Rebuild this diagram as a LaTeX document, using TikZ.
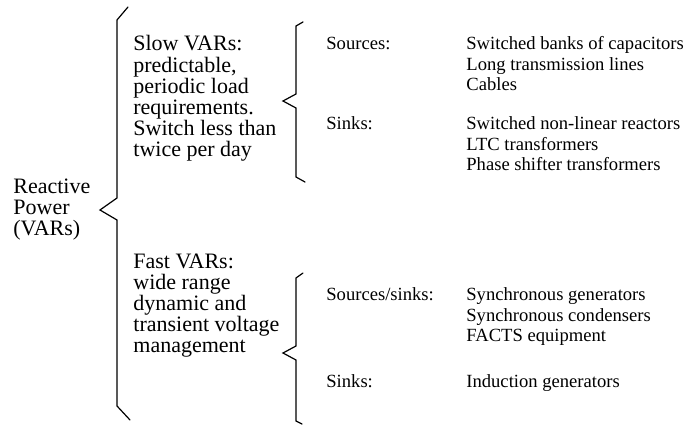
\documentclass[tikz,border=0pt]{standalone}
\usepackage{fontspec}
\setmainfont{Liberation Serif}
\usepackage{tikz}
\tikzset{
  bigtext/.style={anchor=base west,inner sep=0pt,align=left,font=\fontsize{11}{10.6}\selectfont},
  smalltext/.style={anchor=base west,inner sep=0pt,align=left,font=\fontsize{9.3}{10.3}\selectfont},
  bracket/.style={line width=0.6pt,line cap=round,line join=miter}
}

\begin{document}
\begin{tikzpicture}[x=0.5pt,y=-0.5pt]
\useasboundingbox (0,0) rectangle (686,432);
% outer brace
\draw [bracket] (128,7)-- (117,20)-- (117,198)-- (100,210)-- (117,220)-- (117,406)-- (130,420);
% inner braces
\draw [bracket] (303,22)-- (296,26)-- (296,94)-- (283,101)-- (296,108)-- (296,177)-- (305,182);
\draw [bracket] (303,273)-- (296,278)-- (296,346)-- (283,353)-- (296,360)-- (296,421)-- (302,424);
% left (base = last line)
\node[bigtext] (root) at (13,236) {Reactive\\Power\\(VARs)};
\node[bigtext] (slow) at (133,157) {Slow VARs:\\predictable,\\periodic load\\requirements.\\Switch less than\\twice per day};
\node[bigtext] (fast) at (133,353) {Fast VARs:\\wide range\\dynamic and\\transient voltage\\management};
% slow VARs
\node[smalltext] (slowsrc) at (326,50) {Sources:};
\node[smalltext] (slowsrclist) at (466,91) {Switched banks of capacitors\\Long transmission lines\\Cables};
\node[smalltext] (slowsnk) at (326,130) {Sinks:};
\node[smalltext] (slowsnklist) at (466,171) {Switched non-linear reactors\\LTC transformers\\Phase shifter transformers};
% fast VARs
\node[smalltext] (fastsrc) at (326,301) {Sources/sinks:};
\node[smalltext] (fastsrclist) at (466,342) {Synchronous generators\\Synchronous condensers\\FACTS equipment};
\node[smalltext] (fastsnk) at (326,388) {Sinks:};
\node[smalltext] (fastsnklist) at (466,388) {Induction generators};
\end{tikzpicture}
\end{document}
